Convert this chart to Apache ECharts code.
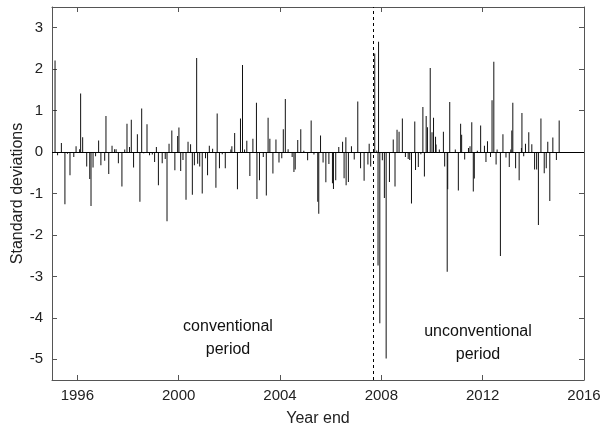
<!DOCTYPE html>
<html>
<head>
<meta charset="utf-8">
<script src="https://cdn.jsdelivr.net/npm/echarts@6/dist/echarts.min.js"></script>
<style>
  html, body { margin: 0; padding: 0; background: #fff; }
  #chart { width: 603px; height: 429px; }
</style>
</head>
<body>
<div id="chart"></div>
<script>
// dates as decimal years
var years = [
  1995.12, 1995.22, 1995.37, 1995.51, 1995.61, 1995.71, 1995.86, 1995.95,
  1996.09, 1996.13, 1996.21, 1996.37, 1996.49, 1996.54, 1996.62, 1996.72, 1996.84, 1996.93,
  1997.08, 1997.13, 1997.24, 1997.37, 1997.47, 1997.53, 1997.62, 1997.76, 1997.87, 1997.96,
  1998.06, 1998.13, 1998.22, 1998.37, 1998.47, 1998.54, 1998.62, 1998.75, 1998.85, 1998.96,
  1999.05, 1999.12, 1999.20, 1999.35, 1999.47, 1999.54, 1999.62, 1999.73, 1999.85, 1999.96,
  2000.01, 2000.08, 2000.17, 2000.29, 2000.37, 2000.47, 2000.54, 2000.62, 2000.71, 2000.75, 2000.83, 2000.93,
  2001.06, 2001.14, 2001.21, 2001.34, 2001.47, 2001.52, 2001.61, 2001.72, 2001.84,
  2002.06, 2002.10, 2002.21, 2002.32, 2002.44, 2002.52, 2002.60, 2002.69, 2002.81, 2002.93,
  2003.07, 2003.09, 2003.19, 2003.34, 2003.46, 2003.53, 2003.60, 2003.72, 2003.84, 2003.96,
  2004.07, 2004.13, 2004.21, 2004.32, 2004.48, 2004.55, 2004.60, 2004.70, 2004.82, 2004.94,
  2005.09, 2005.23, 2005.34, 2005.49, 2005.53, 2005.60, 2005.70, 2005.81, 2005.93,
  2006.07, 2006.11, 2006.20, 2006.32, 2006.47, 2006.53, 2006.60, 2006.61, 2006.70, 2006.82, 2006.93,
  2007.07, 2007.18, 2007.32, 2007.47, 2007.52, 2007.58, 2007.74, 2007.82, 2007.87, 2007.89, 2007.94,
  2008.04, 2008.12, 2008.19, 2008.32, 2008.47, 2008.54, 2008.62, 2008.70, 2008.83, 2008.95,
  2009.06, 2009.12, 2009.19, 2009.32, 2009.35, 2009.46, 2009.56, 2009.64, 2009.70, 2009.77, 2009.82, 2009.93,
  2010.00, 2010.06, 2010.14, 2010.16, 2010.29, 2010.45, 2010.50, 2010.60, 2010.62, 2010.70, 2010.92,
  2011.04, 2011.13, 2011.17, 2011.29, 2011.44, 2011.50, 2011.57, 2011.63, 2011.67, 2011.79, 2011.92,
  2012.07, 2012.13, 2012.19, 2012.31, 2012.37, 2012.44, 2012.53, 2012.57, 2012.70, 2012.80, 2012.92,
  2013.05, 2013.11, 2013.15, 2013.19, 2013.30, 2013.44, 2013.53, 2013.55, 2013.62, 2013.69, 2013.82, 2013.94,
  2014.05, 2014.13, 2014.20, 2014.30, 2014.43, 2014.51, 2014.57, 2014.65, 2014.77, 2014.91,
  2015.02
];
// surprise size in standard deviations
var values = [
  2.21, -0.08, 0.22, -1.26, -0.04, -0.56, -0.12, 0.14,
  0.07, 1.41, 0.36, -0.35, -0.65, -1.30, -0.37, -0.10, 0.28, -0.32,
  -0.21, 0.87, -0.53, 0.15, 0.07, 0.07, -0.27, -0.83, 0.06, 0.68,
  0.12, 0.78, -0.37, 0.43, -1.20, 1.05, -0.03, 0.67, -0.08, -0.06,
  -0.24, 0.12, -0.80, -0.27, -0.17, -1.67, 0.20, 0.52, -0.44, 0.39,
  0.59, -0.46, -0.19, -1.15, 0.25, 0.19, -1.03, -0.32, 2.27, -0.28, -0.35, -1.00,
  -0.15, -0.56, 0.15, 0.08, -0.86, 0.93, -0.39, -0.05, -0.39,
  0.06, 0.14, 0.46, -0.90, 0.81, 2.10, 0.06, 0.27, -0.58, 0.32,
  1.19, -1.13, -0.68, -0.12, -1.05, 0.83, 0.32, -0.52, 0.30, -0.25,
  -0.15, 0.55, 1.28, 0.07, -0.12, -0.48, -0.42, 0.29, 0.55, 0.03,
  -0.20, 0.76, -0.06, -1.20, -1.49, 0.40, -0.25, -0.73, -0.29,
  -0.75, -0.89, -0.68, 0.12, 0.25, -0.63, 0.36, -0.80, -0.72, 0.14, -0.18,
  1.22, -0.39, -0.69, -0.30, 0.20, -0.35, 2.38, 0.04, -2.74, 2.66, -4.13,
  -0.20, -1.11, -4.98, -0.72, 0.30, -0.83, 0.54, 0.49, 0.81, -0.12,
  -0.17, -0.19, -1.24, 0.74, -0.43, -0.36, -0.05, 1.09, -0.59, 0.87, 0.60, 2.03,
  0.48, 0.83, 0.37, 0.18, 0.06, 0.49, -0.35, -2.89, -0.90, 1.21, 0.06,
  -0.93, 0.68, 0.42, -0.18, 0.10, 0.14, 0.72, -0.95, -0.64, 0.03, 0.64,
  0.15, -0.24, 0.26, -0.12, 1.25, 2.18, -0.30, 0.06, -2.51, 0.43, -0.13,
  -0.36, 0.06, 0.52, 1.19, -0.39, -0.68, 0.10, 0.94, -0.10, 0.20, 0.48, 0.19,
  -0.42, -0.42, -1.76, 0.81, -0.51, -0.39, 0.25, -1.18, 0.35, -0.19,
  0.76
];
var yearTicks = [1996, 2000, 2004, 2008, 2012, 2016];
var sdTicks = [-5, -4, -3, -2, -1, 0, 1, 2, 3];
var breakYear = 2007.69; // start of unconventional period

var font = 'Liberation Sans, Arial, Helvetica, sans-serif';
var axisCol = '#555';

var chart = echarts.init(document.getElementById('chart'));

function frameAxis(extra) {
  return Object.assign({
    type: 'value',
    axisLine: { show: true, onZero: false, lineStyle: { color: axisCol, width: 1 } },
    splitLine: { show: false }
  }, extra);
}

var option = {
  animation: false,
  grid: { left: 52, right: 19, top: 7, bottom: 49, containLabel: false, outerBoundsMode: 'none' },
  xAxis: [
    frameAxis({
      min: 1995, max: 2016, position: 'bottom',
      name: 'Year end', nameLocation: 'middle', nameGap: 31,
      nameTextStyle: { fontFamily: font, fontSize: 16, color: '#222' },
      axisTick: { inside: true, length: 5, customValues: yearTicks, lineStyle: { color: axisCol } },
      axisLabel: {
        customValues: yearTicks, fontFamily: font, fontSize: 15, color: '#222', margin: 8,
        formatter: function (v) { return String(v); }
      }
    }),
    frameAxis({
      min: 1995, max: 2016, position: 'top',
      axisTick: { inside: true, length: 5, customValues: yearTicks, lineStyle: { color: axisCol } },
      axisLabel: { show: false }
    })
  ],
  yAxis: [
    frameAxis({
      min: -5.5, max: 3.5, position: 'left',
      name: 'Standard deviations', nameLocation: 'middle', nameGap: 26, nameMoveOverlap: false,
      nameTextStyle: { fontFamily: font, fontSize: 16, color: '#222' },
      axisTick: { inside: true, length: 5, customValues: sdTicks, lineStyle: { color: axisCol } },
      axisLabel: { customValues: sdTicks, fontFamily: font, fontSize: 15, color: '#222', margin: 9 }
    }),
    frameAxis({
      min: -5.5, max: 3.5, position: 'right',
      axisTick: { inside: true, length: 5, customValues: sdTicks, lineStyle: { color: axisCol } },
      axisLabel: { show: false }
    })
  ],
  series: [{
    type: 'bar',
    barWidth: 1,
    itemStyle: { color: '#111' },
    data: years.map(function (y, i) { return [y, values[i]]; }),
    markLine: {
      silent: true,
      symbol: 'none',
      label: { show: false },
      data: [
        { yAxis: 0, lineStyle: { color: '#000', width: 1, type: 'solid' } },
        { xAxis: breakYear, lineStyle: { color: '#000', width: 1, type: [3, 3] } }
      ]
    }
  }],
  graphic: [
    {
      type: 'text', x: 228, y: 338,
      style: {
        text: 'conventional\nperiod', fill: '#111', font: '16px ' + font,
        align: 'center', verticalAlign: 'middle', lineHeight: 23
      }
    },
    {
      type: 'text', x: 478, y: 343,
      style: {
        text: 'unconventional\nperiod', fill: '#111', font: '16px ' + font,
        align: 'center', verticalAlign: 'middle', lineHeight: 23
      }
    }
  ]
};

chart.setOption(option);
</script>
</body>
</html>
